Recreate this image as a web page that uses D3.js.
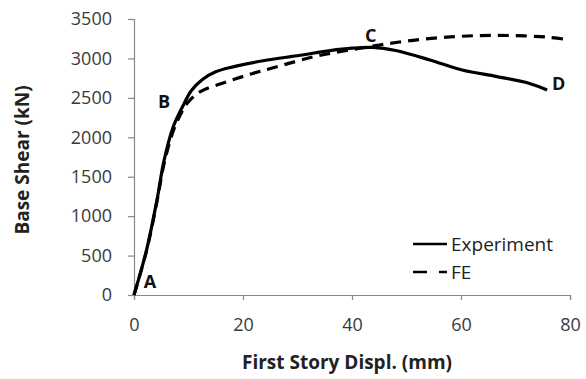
<!DOCTYPE html>
<html>
<head>
<meta charset="utf-8">
<script src="https://cdn.jsdelivr.net/npm/d3@7"></script>
<style>
  body { margin: 0; background: #fff; }
  svg text { font-family: "Open Sans", sans-serif; }
</style>
</head>
<body>
<div id="chart"></div>
<script>
// displacement (mm) / base shear (kN)
const expDispl = [0, 2.3, 4.2, 5.5, 7.2, 9.0, 10.5, 12.5, 15, 18, 23.7, 30.5, 36, 40, 43.9, 48, 54.3, 60.4, 66.6, 72.7, 75.8];
const expShear = [0, 570, 1200, 1700, 2133, 2400, 2590, 2730, 2830, 2890, 2970, 3040, 3100, 3130, 3140, 3100, 2980, 2850, 2770, 2680, 2600];
const feDispl = [0, 2.3, 4.2, 5.5, 7.2, 9.0, 10, 12.1, 17, 21.8, 26.2, 32.9, 39, 45, 51.2, 57.4, 63.5, 69.5, 75.8, 79.4];
const feShear = [0, 560, 1180, 1660, 2080, 2350, 2450, 2577, 2703, 2810, 2894, 3020, 3100, 3170, 3230, 3270, 3290, 3290, 3270, 3240];
const xTicks = [0, 20, 40, 60, 80];
const yTicks = [0, 500, 1000, 1500, 2000, 2500, 3000, 3500];
const pointLabels = [
  { name: "A", d: 1.8, v: 90 },
  { name: "B", d: 4.4, v: 2370 },
  { name: "C", d: 42.4, v: 3210 },
  { name: "D", d: 76.7, v: 2600 }
];
const seriesNames = ["Experiment", "FE"];

const W = 586, H = 379;
const margin = { top: 19, right: 16, bottom: 84, left: 134 };
const height = H - margin.top - margin.bottom;

const svg = d3.select("#chart").append("svg")
  .attr("width", W).attr("height", H);
const g = svg.append("g").attr("transform", `translate(${margin.left},${margin.top})`);

const x = d3.scaleLinear().domain([0, 80]).range([0, 436]);
const y = d3.scaleLinear().domain([0, 3500]).range([height, 0]);

// axes
const xAxis = g.append("g").attr("transform", `translate(0,${height})`)
  .call(d3.axisBottom(x).tickValues(xTicks).tickSize(5).tickPadding(18).tickFormat(d3.format("d")));
const yAxis = g.append("g")
  .call(d3.axisLeft(y).tickValues(yTicks).tickSize(6).tickPadding(16).tickFormat(d3.format("d")));
[xAxis, yAxis].forEach(a => {
  a.select(".domain").attr("stroke", "#888").attr("stroke-width", 1.2);
  a.selectAll(".tick line").attr("stroke", "#888").attr("stroke-width", 1.2);
  a.selectAll(".tick text").attr("fill", "#3a3a3a").style("font-size", "18px");
});

// curves
const line = d3.line().x(d => x(d[0])).y(d => y(d[1])).curve(d3.curveCatmullRom);
g.append("path")
  .datum(expDispl.map((d, i) => [d, expShear[i]]))
  .attr("fill", "none").attr("stroke", "#000").attr("stroke-width", 3.2)
  .attr("d", line);
g.append("path")
  .datum(feDispl.map((d, i) => [d, feShear[i]]))
  .attr("fill", "none").attr("stroke", "#000").attr("stroke-width", 3.2)
  .attr("stroke-dasharray", "11,7")
  .attr("d", line);

// point labels
g.selectAll(".pt").data(pointLabels).enter().append("text")
  .attr("x", d => x(d.d)).attr("y", d => y(d.v))
  .attr("font-size", 18).attr("font-weight", "bold").attr("fill", "#111")
  .text(d => d.name);

// legend
const legend = g.append("g").attr("transform", "translate(279,225)");
seriesNames.forEach((name, i) => {
  const row = legend.append("g").attr("transform", `translate(0,${i * 28})`);
  row.append("line").attr("x1", 0).attr("x2", 34).attr("y1", 0).attr("y2", 0)
    .attr("stroke", "#000").attr("stroke-width", 2.5)
    .attr("stroke-dasharray", i === 1 ? "14,12" : null);
  row.append("text").attr("x", 38).attr("y", 7)
    .attr("font-size", 19).attr("fill", "#222").text(name);
});

// axis titles
svg.append("text")
  .attr("x", 347).attr("y", 369).attr("text-anchor", "middle")
  .attr("font-size", 19).attr("font-weight", "bold").attr("fill", "#222")
  .text("First Story Displ. (mm)");
svg.append("text")
  .attr("transform", "translate(29,160) rotate(-90)").attr("text-anchor", "middle")
  .attr("font-size", 19).attr("font-weight", "bold").attr("fill", "#222")
  .text("Base Shear (kN)");
</script>
</body>
</html>
